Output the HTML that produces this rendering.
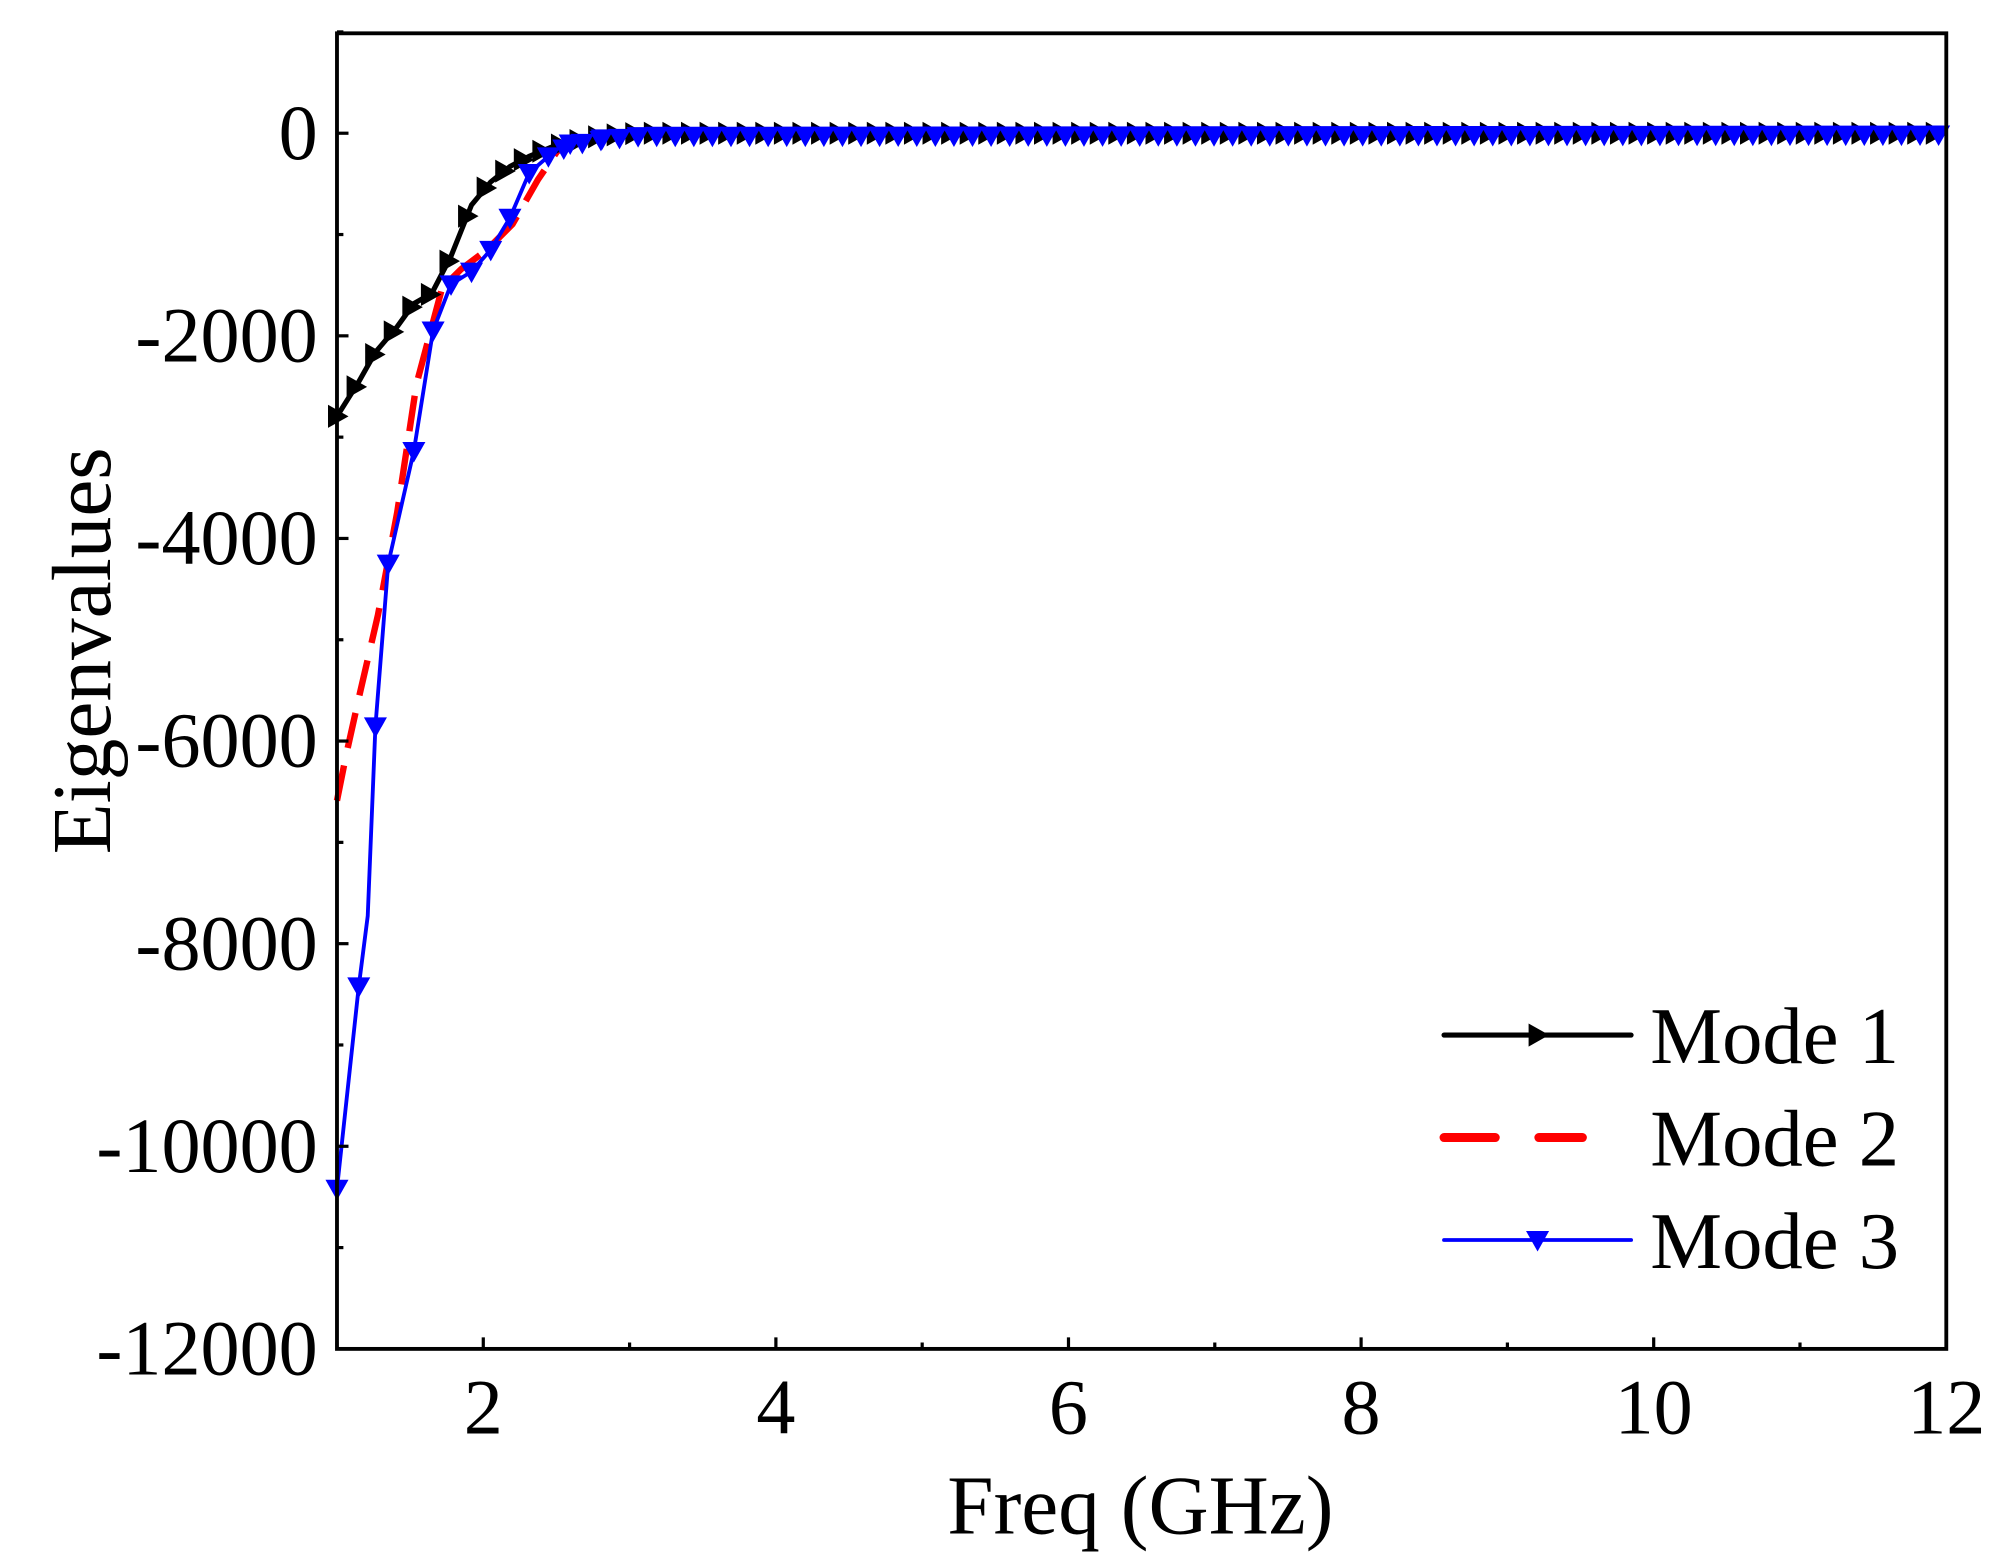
<!DOCTYPE html>
<html><head><meta charset="utf-8"><style>html,body{margin:0;padding:0;background:#fff}svg{display:block}</style></head>
<body>
<svg id="s" width="2009" height="1568" xmlns="http://www.w3.org/2000/svg">
<rect width="2009" height="1568" fill="#fff"/>
<g id="g" transform="scale(1.2813,1.2810)" font-family="'Liberation Serif',serif" fill="#000">
</g>
</svg>
<script>
const NS="http://www.w3.org/2000/svg",g=document.getElementById('g');
function el(t,a,txt){const e=document.createElementNS(NS,t);for(const k in a)e.setAttribute(k,a[k]);if(txt!=null)e.textContent=txt;g.appendChild(e);return e;}
const L=263,R=1519,T=26,B=1053;
const X=v=>L+(v-1)*(R-L)/11, Y=v=>104+(-v)*(B-104)/12000;
function interp(pts,x){for(let i=1;i<pts.length;i++){if(x<=pts[i][0]){const a=pts[i-1],b=pts[i];return a[1]+(b[1]-a[1])*(x-a[0])/(b[0]-a[0]);}}return pts[pts.length-1][1];}
const m1=[[263,325],[280,298],[293,275],[310,255],[323,237],[337,229],[352,200],[368,160],[383,142],[398,130],[413,122],[430,115],[450,110],[470,106],[500,104],[1519,104]];
const m2=[[263,625],[270,590],[280,545],[295,480],[310,400],[325,300],[337,255],[345,225],[360,210],[380,195],[400,175],[420,140],[435,118],[460,108],[500,105],[1519,104]];
const m3=[[263,928],[280,770],[287,715],[293,567],[303,440],[323,352],[338,258],[352,222],[368,212],[383,195],[398,170],[413,135],[428,122],[445,112],[470,108],[500,105],[1519,104]];
const P=p=>'M'+p.map(q=>q.join(',')).join('L');
el('path',{d:P(m2),fill:'none',stroke:'#f00','stroke-width':5,'stroke-dasharray':'28 14'});
el('path',{d:P(m1),fill:'none',stroke:'#000','stroke-width':4});
el('path',{d:P(m3),fill:'none',stroke:'#00f','stroke-width':3});
function right(x,y,c){el('path',{d:`M${x-7},${y-9}L${x+9},${y}L${x-7},${y+9}Z`,fill:c});}
function down(x,y,c){el('path',{d:`M${x-9},${y-7}L${x+9},${y-7}L${x},${y+9}Z`,fill:c});}
for(let x=263;x<=1519;x+=14.5)right(x,interp(m1,x),'#000');
m3.slice(0,15).filter(p=>p[0]!==287).forEach(p=>down(p[0],p[1],'#00f'));
for(let x=440;x<=1519;x+=14.5)down(x,interp(m3,x)+1,'#00f');
el('rect',{x:L,y:T,width:R-L,height:B-T,fill:'none',stroke:'#000','stroke-width':3});
for(let v=-12000;v<=1000;v+=1000){const y=Y(v);el('line',{x1:L,y1:y,x2:L+(v%2000===0?9:5),y2:y,stroke:'#000','stroke-width':2.5});
 if(v%2000===0)el('text',{x:248,y:y+20,'text-anchor':'end','font-size':61},v===0?'0':String(v));}
for(let v=1;v<=12;v++){const x=X(v);el('line',{x1:x,y1:B,x2:x,y2:B-(v%2===0?9:5),stroke:'#000','stroke-width':2.5});
 if(v%2===0)el('text',{x:x,y:1119,'text-anchor':'middle','font-size':61},String(v));}
el('text',{x:890,y:1197,'text-anchor':'middle','font-size':65},'Freq (GHz)');
el('text',{x:0,y:0,'text-anchor':'middle','font-size':65,transform:'translate(86,508) rotate(-90)'},'Eigenvalues');
el('line',{x1:1127,y1:808,x2:1273,y2:808,stroke:'#000','stroke-width':4,'stroke-linecap':'round'});right(1200,808,'#000');
el('line',{x1:1127,y1:888,x2:1235,y2:888,stroke:'#f00','stroke-width':7,'stroke-dasharray':'40 34','stroke-linecap':'round'});
el('line',{x1:1127,y1:968,x2:1273,y2:968,stroke:'#00f','stroke-width':3,'stroke-linecap':'round'});down(1200,968,'#00f');
[['Mode 1',808],['Mode 2',888],['Mode 3',968]].forEach(a=>el('text',{x:1288,y:a[1]+22,'font-size':63},a[0]));
</script>
</body></html>
